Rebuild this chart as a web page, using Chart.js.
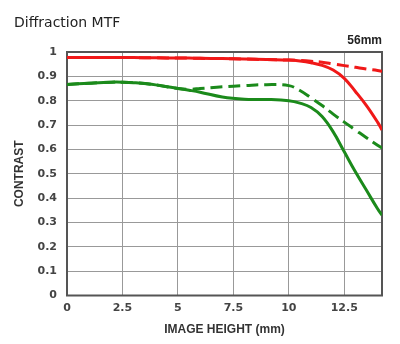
<!DOCTYPE html>
<html>
<head>
<meta charset="utf-8">
<script src="https://cdn.jsdelivr.net/npm/chart.js@4"></script>
<style>
  body { margin: 0; background: #fff; }
  #wrap { width: 400px; height: 344px; }
</style>
</head>
<body>
<div id="wrap"><canvas id="mtf" width="400" height="344"></canvas></div>
<script>
// image height (mm) where values were read
const heightMm = [0, 1, 2, 2.5, 3, 4, 5, 5.5, 6, 7, 8, 9, 10, 10.5, 11, 11.5, 12, 12.5, 13, 13.5, 14, 14.2];

// red = coarse detail, green = fine detail; solid / dashed = the two orientations
const redSolid   = [0.977, 0.977, 0.977, 0.977, 0.977, 0.976, 0.975, 0.975, 0.974, 0.973, 0.971, 0.969, 0.967, 0.963, 0.956, 0.945, 0.926, 0.892, 0.838, 0.78, 0.712, 0.68];
const redDashed  = [0.977, 0.977, 0.977, 0.977, 0.977, 0.976, 0.975, 0.975, 0.974, 0.973, 0.971, 0.969, 0.967, 0.965, 0.962, 0.958, 0.951, 0.944, 0.937, 0.93, 0.924, 0.921];
const greenSolid = [0.867, 0.872, 0.876, 0.876, 0.874, 0.865, 0.85, 0.843, 0.835, 0.815, 0.806, 0.805, 0.80, 0.79, 0.772, 0.735, 0.672, 0.59, 0.508, 0.432, 0.356, 0.33];
const greenDashed= [0.867, 0.872, 0.876, 0.876, 0.874, 0.865, 0.85, 0.847, 0.85, 0.857, 0.862, 0.866, 0.862, 0.842, 0.812, 0.78, 0.745, 0.712, 0.68, 0.648, 0.617, 0.605];

const xTicks = [0, 2.5, 5, 7.5, 10, 12.5];
const chartTitle = 'Diffraction MTF';
const focalLabel = '56mm';

const RED = '#f01818';
const GREEN = '#1b8a1b';

const toPoints = (ys) => ys.map((y, i) => ({ x: heightMm[i], y: y }));

const makeSet = (label, ys, color, dashed) => ({
    label: label,
    data: toPoints(ys),
    borderColor: color,
    backgroundColor: color,
    borderWidth: 3,
    borderDash: dashed ? [12, 6] : [],
    pointRadius: 0,
    tension: 0.4,
    fill: false
});

// frame round the plot area
const frame = {
    id: 'frame',
    beforeDatasetsDraw(chart) {
        const { ctx, chartArea: a } = chart;
        ctx.save();
        ctx.strokeStyle = '#555';
        ctx.lineWidth = 2;
        ctx.strokeRect(a.left, a.top, a.right - a.left, a.bottom - a.top);
        ctx.restore();
    }
};

Chart.defaults.font.family = '"DejaVu Sans", sans-serif';
Chart.defaults.color = '#333';

new Chart(document.getElementById('mtf'), {
    type: 'line',
    data: {
        datasets: [
            makeSet('green dashed', greenDashed, GREEN, true),
            makeSet('green solid', greenSolid, GREEN, false),
            makeSet('red dashed', redDashed, RED, true),
            makeSet('red solid', redSolid, RED, false)
        ]
    },
    options: {
        responsive: false,
        animation: false,
        layout: { padding: { left: 14, right: 18, top: 0, bottom: 0 } },
        plugins: {
            legend: { display: false },
            tooltip: { enabled: false },
            title: {
                display: true,
                text: chartTitle,
                align: 'start',
                color: '#222',
                font: { size: 14, weight: 'normal', lineHeight: 1.2 },
                padding: { top: 14.5, bottom: 2.5 }
            },
            subtitle: {
                display: true,
                text: focalLabel,
                align: 'end',
                color: '#222',
                font: { family: '"Liberation Sans", sans-serif', size: 12, weight: 'bold', lineHeight: 1.2 },
                padding: { top: 0, bottom: 3.8 }
            }
        },
        scales: {
            x: {
                type: 'linear',
                min: 0,
                max: 14.2,
                afterBuildTicks: (scale) => { scale.ticks = xTicks.map(v => ({ value: v })); },
                afterFit: (scale) => { scale.height = 48.5; },
                grid: { color: '#999', lineWidth: 1, drawTicks: false },
                border: { display: false },
                ticks: {
                    padding: 6,
                    color: '#444',
                    font: { size: 11, weight: 'bold' },
                    maxRotation: 0
                },
                title: {
                    display: true,
                    text: 'IMAGE HEIGHT (mm)',
                    color: '#333',
                    font: { family: '"Liberation Sans", sans-serif', size: 12, weight: 'bold', lineHeight: 1 },
                    padding: { top: 0, bottom: 8 }
                }
            },
            y: {
                min: 0,
                max: 1,
                afterFit: (scale) => { scale.width = 53; },
                grid: { color: '#999', lineWidth: 1, drawTicks: false },
                border: { display: false },
                ticks: {
                    stepSize: 0.1,
                    padding: 10,
                    color: '#444',
                    font: { size: 11, weight: 'bold' },
                    callback: (v) => String(Math.round(v * 10) / 10)
                },
                title: {
                    display: true,
                    text: 'CONTRAST',
                    color: '#333',
                    font: { family: '"Liberation Sans", sans-serif', size: 12, weight: 'bold', lineHeight: 1 },
                    padding: { top: 0, bottom: 0 }
                }
            }
        }
    },
    plugins: [frame]
});
</script>
</body>
</html>
